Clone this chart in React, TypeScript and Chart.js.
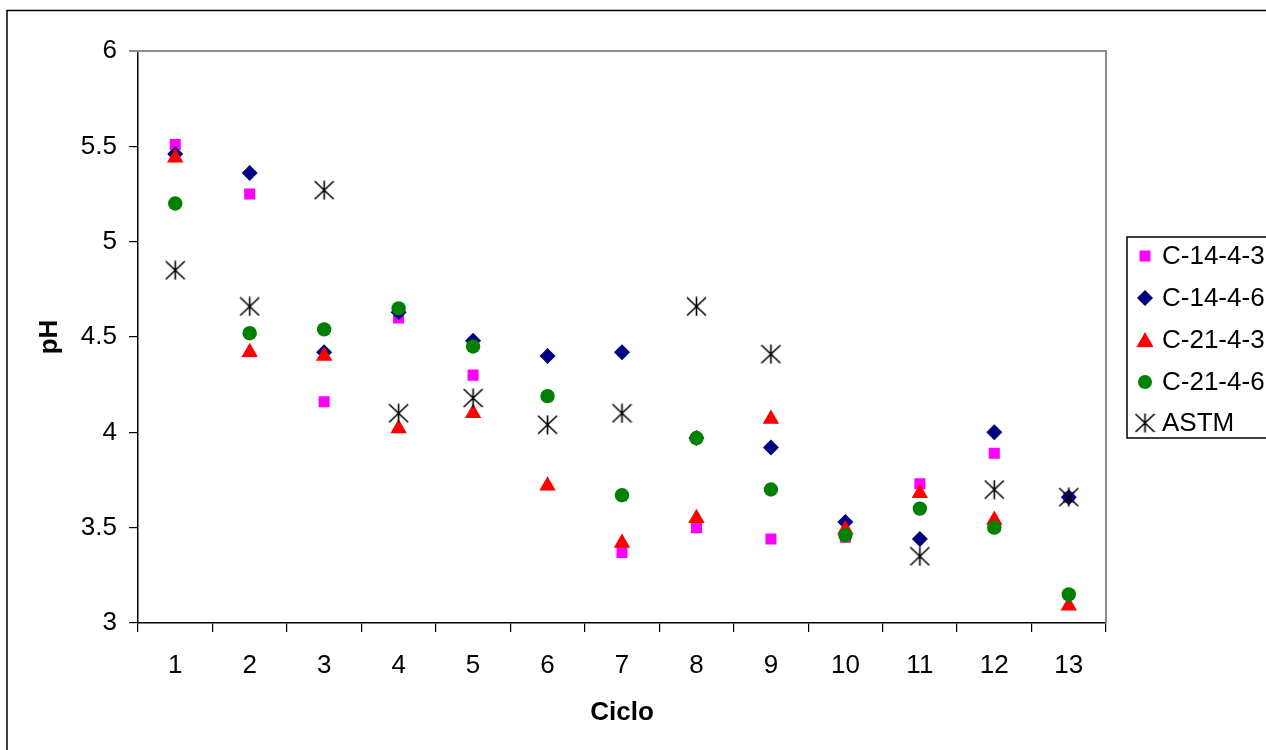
import React, { useEffect, useRef } from "react";
import { Chart, registerables } from "chart.js";

Chart.register(...registerables);

const categories = ["1", "2", "3", "4", "5", "6", "7", "8", "9", "10", "11", "12", "13"];
const seriesNames = ["C-14-4-3", "C-14-4-6", "C-21-4-3", "C-21-4-6", "ASTM"];
const c1443 = [5.51, 5.25, 4.16, 4.6, 4.3, null, 3.37, 3.5, 3.44, 3.45, 3.73, 3.89, 3.66];
const c1446 = [5.46, 5.36, 4.42, 4.63, 4.48, 4.4, 4.42, 3.97, 3.92, 3.53, 3.44, 4.0, 3.66];
const c2143 = [5.44, 4.42, 4.4, 4.02, 4.1, 3.72, 3.42, 3.55, 4.07, 3.49, 3.68, 3.54, 3.09];
const c2146 = [5.2, 4.52, 4.54, 4.65, 4.45, 4.19, 3.67, 3.97, 3.7, 3.46, 3.6, 3.5, 3.15];
const astm = [4.85, 4.66, 5.27, 4.1, 4.18, 4.04, 4.1, 4.66, 4.41, null, 3.35, 3.7, 3.66];
const yMin = 3;
const yMax = 6;
const yStep = 0.5;
const xTitle = "Ciclo";
const yTitle = "pH";

const FONT = "'Liberation Sans', Arial, sans-serif";
const colors = ["#FF00FF", "#000080", "#FF0000", "#008000", "#000000"];

function makeAsterisk(): HTMLCanvasElement {
  const c = document.createElement("canvas");
  c.width = 21;
  c.height = 20;
  const g = c.getContext("2d")!;
  g.strokeStyle = "#000";
  g.lineWidth = 1.6;
  g.beginPath();
  g.moveTo(10.5, 0.5);
  g.lineTo(10.5, 19.5);
  g.moveTo(1, 1);
  g.lineTo(20, 19);
  g.moveTo(20, 1);
  g.lineTo(1, 19);
  g.stroke();
  return c;
}

function drawMarker(ctx: CanvasRenderingContext2D, kind: number, x: number, y: number, star: HTMLCanvasElement) {
  ctx.save();
  ctx.fillStyle = colors[kind];
  ctx.beginPath();
  if (kind === 0) {
    ctx.rect(x - 5.5, y - 5.5, 11, 11);
    ctx.fill();
  } else if (kind === 1) {
    ctx.moveTo(x - 8, y);
    ctx.lineTo(x, y - 8);
    ctx.lineTo(x + 8, y);
    ctx.lineTo(x, y + 8);
    ctx.closePath();
    ctx.fill();
  } else if (kind === 2) {
    ctx.moveTo(x, y - 8);
    ctx.lineTo(x + 8.5, y + 7);
    ctx.lineTo(x - 8.5, y + 7);
    ctx.closePath();
    ctx.fill();
  } else if (kind === 3) {
    ctx.arc(x, y, 7, 0, Math.PI * 2);
    ctx.fill();
  } else {
    ctx.drawImage(star, x - star.width / 2, y - star.height / 2);
  }
  ctx.restore();
}

export default function App() {
  const ref = useRef<HTMLCanvasElement>(null);

  useEffect(() => {
    if (!ref.current) return;
    const star = makeAsterisk();

    const framePlugin = {
      id: "frame",
      beforeDraw(chart: any) {
        const ctx = chart.ctx;
        ctx.save();
        ctx.fillStyle = "#fff";
        ctx.fillRect(0, 0, chart.width, chart.height);
        ctx.restore();
      },
      beforeDatasetsDraw(chart: any) {
        const ctx = chart.ctx;
        const { left, top, right, bottom } = chart.chartArea;
        ctx.save();
        ctx.strokeStyle = "#8c8c8c";
        ctx.lineWidth = 2;
        ctx.beginPath();
        ctx.moveTo(left - 9, top);
        ctx.lineTo(right, top);
        ctx.lineTo(right, bottom);
        ctx.stroke();
        ctx.restore();
      },
      afterDraw(chart: any) {
        const ctx = chart.ctx;
        ctx.save();
        ctx.strokeStyle = "#000";
        ctx.lineWidth = 1.5;
        ctx.strokeRect(7, 10.5, 1400, 900);
        ctx.lineWidth = 1.5;
        ctx.strokeRect(1127, 237, 300, 201);
        ctx.font = `26px ${FONT}`;
        ctx.fillStyle = "#000";
        ctx.textBaseline = "middle";
        ctx.textAlign = "left";
        const rows = [256, 298, 340, 382, 423];
        seriesNames.forEach((name, i) => {
          drawMarker(ctx, i, 1145, rows[i], star);
          ctx.fillStyle = "#000";
          ctx.fillText(name, 1162, rows[i] + 1);
        });
        ctx.restore();
      },
    };

    const base = { showLine: false, pointBorderWidth: 0, pointHoverRadius: 0 };
    const chart = new Chart(ref.current, {
      type: "line",
      data: {
        labels: categories,
        datasets: [
          { ...base, label: seriesNames[0], data: c1443, order: 5, pointStyle: "rect", pointRadius: 7.8, backgroundColor: colors[0], borderColor: colors[0] },
          { ...base, label: seriesNames[1], data: c1446, order: 4, pointStyle: "rectRot", pointRadius: 8, backgroundColor: colors[1], borderColor: colors[1] },
          { ...base, label: seriesNames[2], data: c2143, order: 3, pointStyle: "triangle", pointRadius: 9.5, backgroundColor: colors[2], borderColor: colors[2] },
          { ...base, label: seriesNames[3], data: c2146, order: 2, pointStyle: "circle", pointRadius: 7.2, backgroundColor: colors[3], borderColor: colors[3] },
          { ...base, label: seriesNames[4], data: astm, order: 1, pointStyle: star, pointRadius: 10, backgroundColor: colors[4], borderColor: colors[4] },
        ] as any,
      },
      options: {
        animation: false,
        responsive: false,
        devicePixelRatio: 1,
        layout: { padding: { left: 34, top: 51, right: 160, bottom: 22 } },
        plugins: { legend: { display: false }, tooltip: { enabled: false }, title: { display: false } },
        scales: {
          x: {
            type: "category",
            offset: true,
            grid: { offset: true, drawOnChartArea: false, drawTicks: true, tickLength: 9, color: "#000", lineWidth: 1.2 },
            border: { display: true, color: "#000", width: 1.5 },
            ticks: { font: { size: 26, family: FONT }, color: "#000", padding: 18, maxRotation: 0, autoSkip: false },
            title: { display: true, text: xTitle, font: { size: 26, family: FONT, weight: "bold" }, color: "#000", padding: 0 },
            afterFit: (s: any) => { s.height = 105; },
          },
          y: {
            min: yMin,
            max: yMax,
            ticks: {
              stepSize: yStep,
              font: { size: 26, family: FONT },
              color: "#000",
              padding: 12,
              callback: (v: any) => String(Number(v)),
            },
            grid: { drawOnChartArea: false, drawTicks: true, tickLength: 9, color: "#000", lineWidth: 1.2 },
            border: { display: true, color: "#000", width: 1.5 },
            title: { display: true, text: yTitle, font: { size: 26, family: FONT, weight: "bold" }, color: "#000", padding: 0 },
            afterFit: (s: any) => { s.width = 104; },
          },
        },
      } as any,
      plugins: [framePlugin],
    });
    return () => chart.destroy();
  }, []);

  return (
    <div style={{ position: "absolute", left: 0, top: 0, width: 1266, height: 750 }}>
      <canvas ref={ref} width={1266} height={750} style={{ display: "block" }} />
    </div>
  );
}
